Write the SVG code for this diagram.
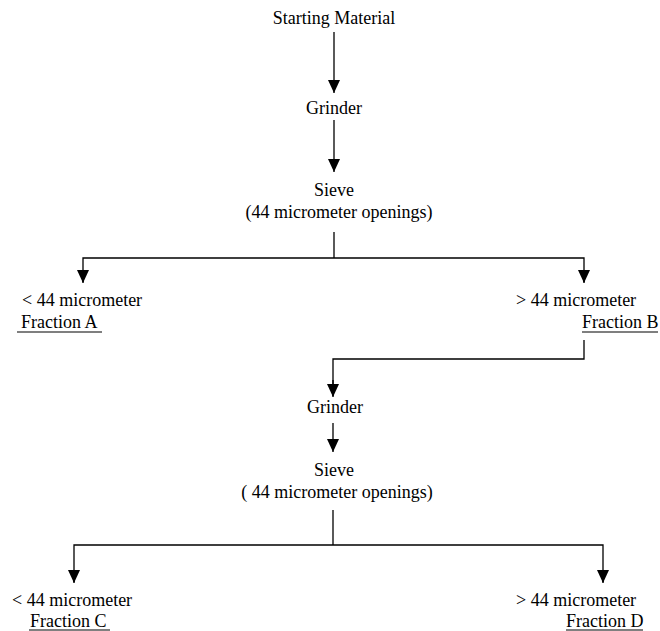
<svg xmlns="http://www.w3.org/2000/svg" width="660" height="631" viewBox="0 0 660 631">
<defs>
<marker id="ah" viewBox="0 0 13 12" refX="13" refY="6" markerWidth="13" markerHeight="12" markerUnits="userSpaceOnUse" orient="auto">
<path d="M0,0 L13,6 L0,12 Z" fill="#000"/>
</marker>
</defs>
<style>
.t{font-family:'Liberation Serif','Times New Roman','DejaVu Serif',serif;font-size:18px;fill:#000}
.c{text-anchor:middle}
.ln{stroke:#000;stroke-width:1.3;fill:none}
.u{stroke:#000;stroke-width:1.2}
</style>
<rect width="660" height="631" fill="#fff"/>
<g id="connectors">
<line class="ln" x1="334" y1="32" x2="334" y2="93" marker-end="url(#ah)"/>
<line class="ln" x1="334" y1="120" x2="334" y2="172" marker-end="url(#ah)"/>
<polyline class="ln" points="334,232 334,258"/>
<polyline class="ln" points="83,282 83,258 584,258 584,282"/>
<line class="ln" x1="83" y1="270" x2="83" y2="283" marker-end="url(#ah)"/>
<line class="ln" x1="584" y1="270" x2="584" y2="283" marker-end="url(#ah)"/>
<polyline class="ln" points="584,340 584,359 333,359 333,396"/>
<line class="ln" x1="333" y1="380" x2="333" y2="397" marker-end="url(#ah)"/>
<line class="ln" x1="333" y1="423" x2="333" y2="452" marker-end="url(#ah)"/>
<polyline class="ln" points="333,510 333,545"/>
<polyline class="ln" points="74,582 74,545 603,545 603,582"/>
<line class="ln" x1="74" y1="570" x2="74" y2="583" marker-end="url(#ah)"/>
<line class="ln" x1="603" y1="570" x2="603" y2="583" marker-end="url(#ah)"/>
</g>
<g font-family="Liberation Serif, Times New Roman, DejaVu Serif, serif" font-size="18">
<g id="start"><text class="t c" x="334" y="24">Starting Material</text></g>
<g id="grinder1"><text class="t c" x="334" y="114">Grinder</text></g>
<g id="sieve1"><text class="t c" x="334" y="196">Sieve</text><text class="t c" x="339" y="218">(44 micrometer openings)</text></g>
<g id="fractionA"><text class="t" x="22" y="306">&lt; 44 micrometer</text><text class="t" x="21" y="328">Fraction A</text><line class="u" x1="17" y1="332" x2="102" y2="332"/></g>
<g id="fractionB"><text class="t" x="516" y="306">&gt; 44 micrometer</text><text class="t" x="582" y="328">Fraction B</text><line class="u" x1="582" y1="332" x2="658" y2="332"/></g>
<g id="grinder2"><text class="t c" x="335" y="413">Grinder</text></g>
<g id="sieve2"><text class="t c" x="334" y="476">Sieve</text><text class="t c" x="337" y="498">( 44 micrometer openings)</text></g>
<g id="fractionC"><text class="t" x="12" y="606">&lt; 44 micrometer</text><text class="t" x="30" y="627">Fraction C</text><line class="u" x1="29" y1="630" x2="110" y2="630"/></g>
<g id="fractionD"><text class="t" x="516" y="606">&gt; 44 micrometer</text><text class="t" x="566" y="627">Fraction D</text><line class="u" x1="566" y1="630" x2="643" y2="630"/></g>
</g>
</svg>
